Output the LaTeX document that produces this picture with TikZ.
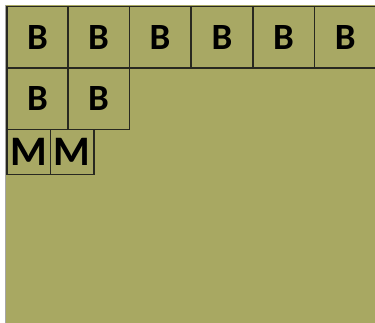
\documentclass[tikz,border=0pt]{standalone}
\usepackage{fontspec}
\setmainfont{Carlito}
\definecolor{olive}{RGB}{168,168,98}
\definecolor{boxfill}{RGB}{168,168,100}
\definecolor{edge}{RGB}{40,40,32}
\tikzset{
  cell/.style={draw=edge, line width=1.5pt, fill=boxfill, inner sep=0pt, anchor=north west, font=\bfseries\fontsize{37}{37}\selectfont},
  bcell/.style={cell, minimum width=61.5pt, minimum height=61.5pt},
  mcell/.style={cell, minimum width=43.5pt, minimum height=45pt, font=\bfseries\fontsize{42}{42}\selectfont}
}
\begin{document}
\begin{tikzpicture}[x=1pt,y=-1pt]
\useasboundingbox (0,0) rectangle (375,323);
\fill[white] (0,0) rectangle (375,323);
\fill[olive] (5,5) rectangle (375,323);
\draw[gray!70, line width=1pt] (5,5) -- (5,323);
\begin{scope}
\clip (0,0) rectangle (375,323);
\node[bcell] (b1) at (6,6) {B};
\node[bcell] (b2) at (67,6) {B};
\node[bcell] (b3) at (128.5,6) {B};
\node[bcell] (b4) at (190.5,6) {B};
\node[bcell] (b5) at (252,6) {B};
\node[bcell, minimum width=70pt] (b6) at (313.5,6) {\hspace*{-8pt}B};
\node[bcell] (b7) at (6,67.5) {B};
\node[bcell] (b8) at (67,67.5) {B};
\node[mcell] (m1) at (6,129) {\raisebox{-1pt}{M}};
\node[mcell] (m2) at (49.5,129) {\raisebox{-1pt}{M}};
\end{scope}
\end{tikzpicture}
\end{document}
